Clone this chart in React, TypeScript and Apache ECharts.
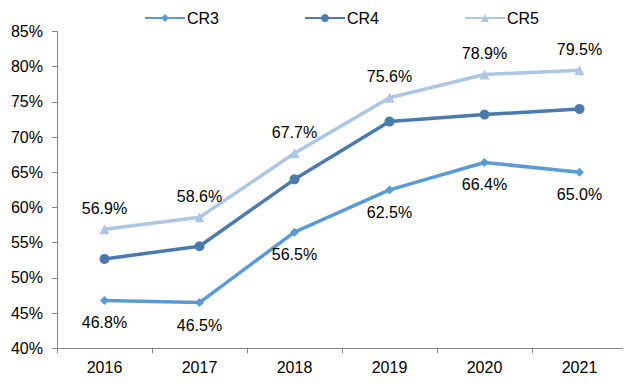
import React, { useEffect, useRef } from "react";
import * as echarts from "echarts";

const years = ["2016", "2017", "2018", "2019", "2020", "2021"];
const cr3 = [46.8, 46.5, 56.5, 62.5, 66.4, 65.0];
const cr4 = [52.7, 54.5, 64.0, 72.2, 73.2, 74.0];
const cr5 = [56.9, 58.6, 67.7, 75.6, 78.9, 79.5];
const seriesNames = ["CR3", "CR4", "CR5"];

const FONT = "'Liberation Sans', Arial, sans-serif";

export default function App() {
  const ref = useRef<HTMLDivElement>(null);
  useEffect(() => {
    if (!ref.current) return;
    const chart = echarts.init(ref.current, null, { renderer: "svg" });
    const labelStyle = {
      show: true,
      fontSize: 16,
      fontFamily: FONT,
      color: "#000",
      formatter: (p: any) => p.value.toFixed(1) + "%",
    };
    chart.setOption({
      animation: false,
      textStyle: { fontFamily: FONT },
      legend: {
        data: seriesNames,
        top: 5,
        left: 139,
        itemWidth: 40,
        itemHeight: 10,
        itemGap: 85,
        textStyle: { fontSize: 16, fontFamily: FONT, color: "#000", padding: [0, 0, 0, -3] },
      },
      grid: { left: 57, right: 4, top: 31.5, bottom: 35.7, containLabel: false },
      xAxis: {
        type: "category",
        data: years,
        boundaryGap: true,
        axisLine: { lineStyle: { color: "#868686", width: 1 } },
        axisTick: { show: true, length: 5, lineStyle: { color: "#868686" } },
        axisLabel: { fontSize: 16, fontFamily: FONT, color: "#000", margin: 11 },
        splitLine: { show: false },
      },
      yAxis: {
        type: "value",
        min: 40,
        max: 85,
        interval: 5,
        axisLine: { show: true, lineStyle: { color: "#868686", width: 1 } },
        axisTick: { show: true, length: 5, lineStyle: { color: "#868686" } },
        axisLabel: { fontSize: 16, fontFamily: FONT, color: "#000", margin: 14, formatter: "{value}%" },
        splitLine: { show: false },
      },
      series: [
        {
          name: "CR3",
          type: "line",
          data: cr3,
          symbol: "diamond",
          symbolSize: 9,
          lineStyle: { width: 3.5, color: "#5B9BD5" },
          itemStyle: { color: "#5B9BD5" },
          label: { ...labelStyle, position: "bottom", distance: 10 },
          z: 3,
        },
        {
          name: "CR4",
          type: "line",
          data: cr4,
          symbol: "circle",
          symbolSize: 10,
          lineStyle: { width: 3.5, color: "#4A7AAE" },
          itemStyle: { color: "#4A7AAE" },
          label: { show: false },
          z: 2,
        },
        {
          name: "CR5",
          type: "line",
          data: cr5,
          symbol: "triangle",
          symbolSize: 10,
          lineStyle: { width: 3.5, color: "#ADC6E5" },
          itemStyle: { color: "#ADC6E5" },
          label: { ...labelStyle, position: "top", distance: 8 },
          z: 1,
        },
      ],
    });
    return () => chart.dispose();
  }, []);
  return <div ref={ref} style={{ width: 631, height: 384, margin: -8 }} />;
}
